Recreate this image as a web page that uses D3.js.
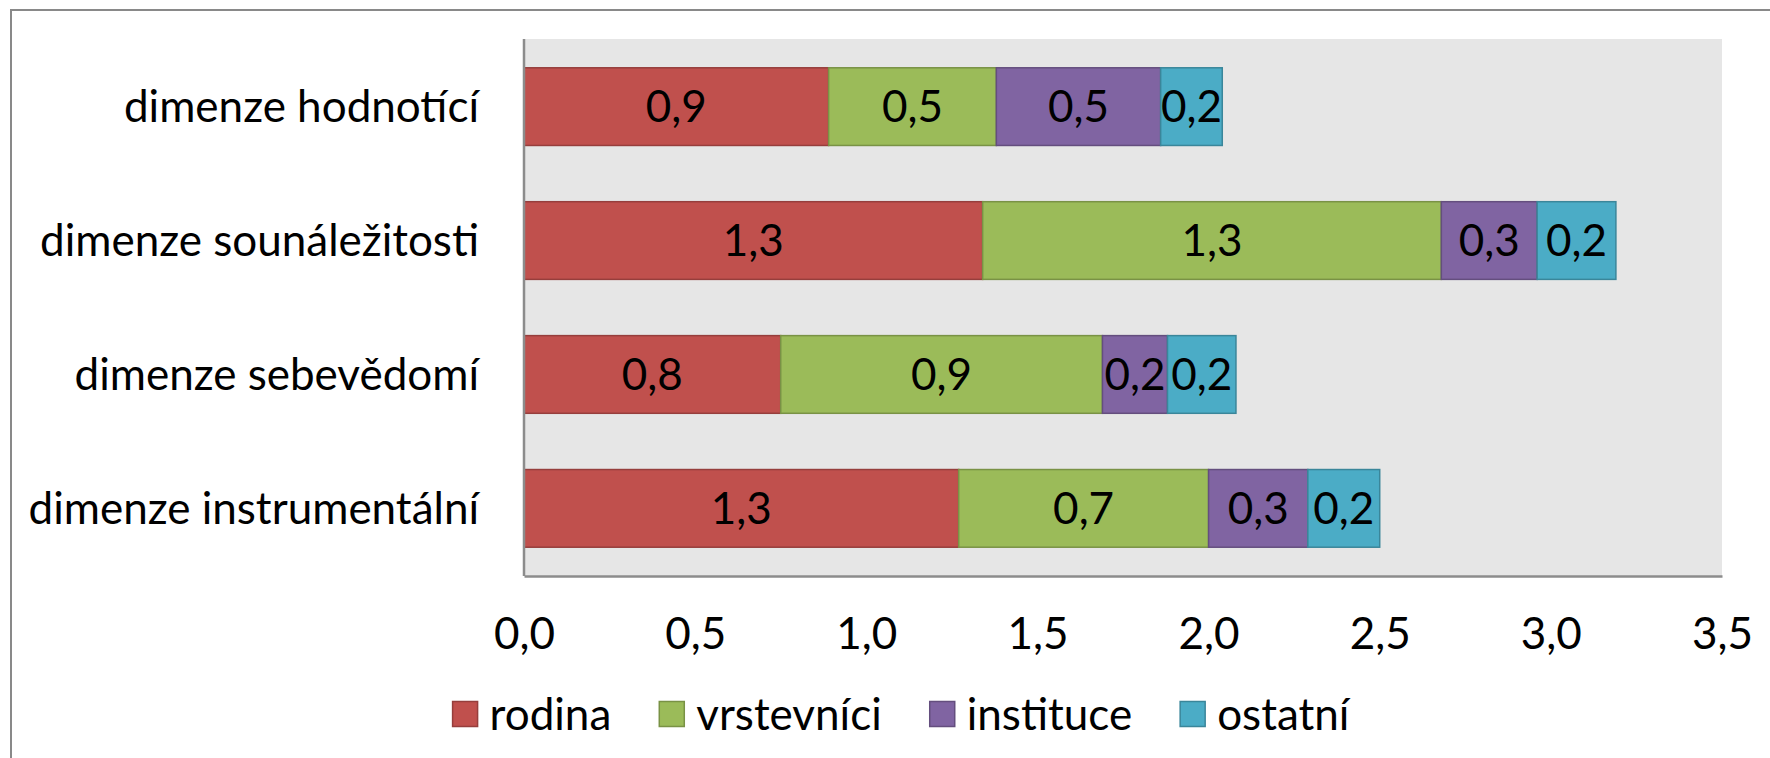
<!DOCTYPE html>
<html>
<head>
<meta charset="utf-8">
<script src="https://cdn.jsdelivr.net/npm/d3@7"></script>
<style>
  body { margin: 0; background: #fff; }
  svg { display: block; font-family: Lato, "Open Sans", sans-serif; }
</style>
</head>
<body>
<div id="chart"></div>
<script>
// categories, top to bottom
const categories = [
  "dimenze hodnotící",
  "dimenze sounáležitosti",
  "dimenze sebevědomí",
  "dimenze instrumentální"
];
const seriesNames = ["rodina", "vrstevníci", "instituce", "ostatní"];
const seriesColors = ["#C0504D", "#9BBB59", "#8064A2", "#4BACC6"];

// values per series, in category order
const rodina = [0.89, 1.34, 0.75, 1.27];
const vrstevnici = [0.49, 1.34, 0.94, 0.73];
const instituce = [0.48, 0.28, 0.19, 0.29];
const ostatni = [0.18, 0.23, 0.20, 0.21];

const xTicks = [0, 0.5, 1, 1.5, 2, 2.5, 3, 3.5];

const W = 1770, H = 758;
const margin = { top: 39, right: 48, bottom: 182, left: 524 };
const width = W - margin.left - margin.right;
const height = H - margin.top - margin.bottom;

const svg = d3.select("#chart").append("svg")
  .attr("width", W)
  .attr("height", H);

// chart frame
svg.append("rect")
  .attr("x", 11).attr("y", 10)
  .attr("width", W + 20).attr("height", H + 20)
  .attr("fill", "none")
  .attr("stroke", "#898989")
  .attr("stroke-width", 2);

const g = svg.append("g")
  .attr("transform", `translate(${margin.left},${margin.top})`);

// plot area
g.append("rect")
  .attr("width", width)
  .attr("height", height)
  .attr("fill", "#E6E6E6");

const table = categories.map((c, i) => ({
  category: c,
  rodina: rodina[i],
  "vrstevníci": vrstevnici[i],
  instituce: instituce[i],
  "ostatní": ostatni[i]
}));

const stack = d3.stack().keys(seriesNames)(table);

const x = d3.scaleLinear().domain([0, 3.5]).range([0, width]);
const y = d3.scaleBand()
  .domain(categories)
  .range([0, height])
  .paddingInner(0.42)
  .paddingOuter(0.215);

const color = d3.scaleOrdinal().domain(seriesNames).range(seriesColors);
const comma = d3.formatLocale({ decimal: ",", thousands: " ", grouping: [3], currency: ["", ""] });
const fmt1 = comma.format(".1f");

// bars
const layers = g.selectAll(".layer")
  .data(stack)
  .enter()
  .append("g")
  .attr("class", "layer");

layers.selectAll("rect")
  .data((s) => s.map((d) => ({ s: s.key, d })))
  .enter()
  .append("rect")
  .attr("x", (e) => x(e.d[0]))
  .attr("y", (e) => y(e.d.data.category))
  .attr("width", (e) => x(e.d[1]) - x(e.d[0]))
  .attr("height", y.bandwidth())
  .attr("fill", (e) => color(e.s))
  .attr("stroke", (e) => d3.color(color(e.s)).darker(0.7))
  .attr("stroke-width", 1.5);

// value labels
layers.selectAll("text")
  .data((s) => s.map((d) => ({ s: s.key, d })))
  .enter()
  .append("text")
  .attr("x", (e) => (x(e.d[0]) + x(e.d[1])) / 2)
  .attr("y", (e) => y(e.d.data.category) + y.bandwidth() / 2)
  .attr("dy", "0.36em")
  .attr("text-anchor", "middle")
  .attr("font-size", "44px")
  .attr("fill", "#000")
  .text((e) => fmt1(e.d[1] - e.d[0]));

// category labels
g.selectAll(".cat")
  .data(categories)
  .enter()
  .append("text")
  .attr("class", "cat")
  .attr("x", -45)
  .attr("y", (d) => y(d) + y.bandwidth() / 2)
  .attr("dy", "0.36em")
  .attr("text-anchor", "end")
  .attr("font-size", "44px")
  .attr("fill", "#000")
  .text((d) => d);

// x axis
const xAxis = g.append("g")
  .attr("transform", `translate(0,${height})`)
  .call(d3.axisBottom(x).tickValues(xTicks).tickSize(0).tickPadding(42).tickFormat(fmt1));
xAxis.select(".domain").attr("stroke", "#8C8C8C").attr("stroke-width", 2.5);
xAxis.selectAll("text")
  .attr("font-family", "Lato, sans-serif")
  .attr("font-size", "44px")
  .attr("fill", "#000");

// y axis line
g.append("line")
  .attr("x1", 0).attr("x2", 0)
  .attr("y1", 0).attr("y2", height)
  .attr("stroke", "#8C8C8C")
  .attr("stroke-width", 2.5);

// legend
const legend = svg.append("g");
const keySize = 25;
const itemGap = 48;
let lx = 0;
seriesNames.forEach((name) => {
  const item = legend.append("g").attr("transform", `translate(${lx},0)`);
  item.append("rect")
    .attr("x", 0).attr("y", -keySize / 2)
    .attr("width", keySize).attr("height", keySize)
    .attr("fill", color(name))
    .attr("stroke", d3.color(color(name)).darker(0.7))
    .attr("stroke-width", 1.5);
  const t = item.append("text")
    .attr("x", keySize + 12)
    .attr("dy", "0.36em")
    .attr("font-size", "44px")
    .attr("fill", "#000")
    .text(name);
  lx += keySize + 12 + t.node().getComputedTextLength() + itemGap;
});
const legendW = lx - itemGap;
legend.attr("transform", `translate(${901 - legendW / 2},714)`);
</script>
</body>
</html>
